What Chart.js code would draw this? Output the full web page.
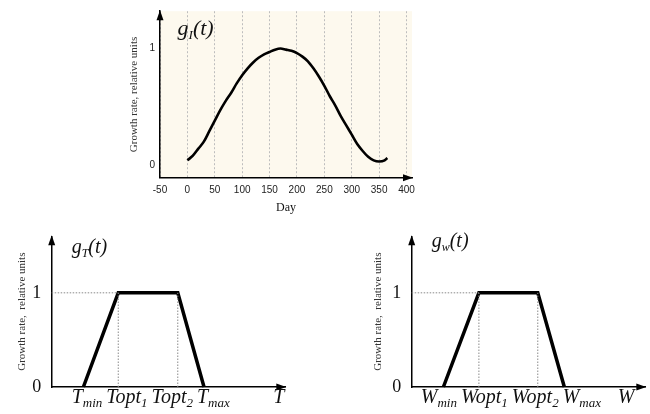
<!DOCTYPE html>
<html>
<head>
<meta charset="utf-8">
<script src="https://cdn.jsdelivr.net/npm/chart.js@4/dist/chart.umd.min.js"></script>
<style>
  body { margin: 0; background: #fff; }
  #wrap { position: relative; width: 650px; height: 414px; }
  canvas { position: absolute; }
</style>
</head>
<body>
<div id="wrap">
  <canvas id="light" style="left:0;top:0;width:650px;height:215px" width="650" height="215"></canvas>
  <canvas id="temp" style="left:0;top:215px;width:325px;height:199px" width="325" height="199"></canvas>
  <canvas id="water" style="left:325px;top:215px;width:325px;height:199px" width="325" height="199"></canvas>
</div>
<script>
// DATA
const days = [0, 10, 20, 30, 40, 50, 60, 70, 80, 90, 100, 110, 120, 130, 140, 150, 160, 170, 180,
              190, 200, 210, 220, 230, 240, 250, 260, 270, 280, 290, 300, 310, 320, 330, 340, 350, 360, 365];
const lightGrowth = [0.04, 0.08, 0.14, 0.20, 0.29, 0.38, 0.47, 0.55, 0.62, 0.70, 0.77, 0.83, 0.88, 0.92,
                     0.95, 0.97, 0.99, 1.00, 0.99, 0.98, 0.96, 0.93, 0.89, 0.83, 0.76, 0.68, 0.59, 0.51,
                     0.42, 0.34, 0.26, 0.18, 0.12, 0.07, 0.04, 0.03, 0.04, 0.06];
const dayTicks = [-50, 0, 50, 100, 150, 200, 250, 300, 350, 400];
const rateTicks = [0, 1];

// Tmin, Topt1, Topt2, Tmax  (and the same for W)
const tempStops = [0.99, 2.08, 3.94, 4.76];
const waterStops = [0.99, 2.10, 3.94, 4.77];
const trapezoid = [0, 1, 1, 0];
const tempLabels = [['T', 'min'], ['Topt', '1'], ['Topt', '2'], ['T', 'max']];
const waterLabels = [['W', 'min'], ['Wopt', '1'], ['Wopt', '2'], ['W', 'max']];

const SERIF = "'Liberation Serif', 'Times New Roman', serif";
const SANS = "'Liberation Sans', Arial, sans-serif";

// text with a subscript: [main, sub, tail]
let subWidth = (ctx, parts, size, subSize) => {
    ctx.font = 'italic ' + size + 'px ' + SERIF;
    let w = ctx.measureText(parts[0]).width + ctx.measureText(parts[2] || '').width;
    ctx.font = 'italic ' + subSize + 'px ' + SERIF;
    return w + ctx.measureText(parts[1]).width;
}

let drawSub = (ctx, x, y, parts, size, subSize) => {
    ctx.textAlign = 'left';
    ctx.textBaseline = 'alphabetic';
    ctx.font = 'italic ' + size + 'px ' + SERIF;
    ctx.fillText(parts[0], x, y);
    x += ctx.measureText(parts[0]).width;
    ctx.font = 'italic ' + subSize + 'px ' + SERIF;
    ctx.fillText(parts[1], x, y + 4);
    x += ctx.measureText(parts[1]).width;
    if (parts[2]) {
        ctx.font = 'italic ' + size + 'px ' + SERIF;
        ctx.fillText(parts[2], x, y);
    }
}

let arrows = (ctx, area) => {
    ctx.fillStyle = '#000';
    ctx.beginPath();
    ctx.moveTo(area.left, area.top - 1);
    ctx.lineTo(area.left - 3.5, area.top + 9);
    ctx.lineTo(area.left + 3.5, area.top + 9);
    ctx.closePath();
    ctx.fill();
    ctx.beginPath();
    ctx.moveTo(area.right + 1, area.bottom);
    ctx.lineTo(area.right - 9, area.bottom - 3.5);
    ctx.lineTo(area.right - 9, area.bottom + 3.5);
    ctx.closePath();
    ctx.fill();
}

const decor = {
    id: 'decor',
    beforeDraw(chart, args, opts) {
        if (!opts.fill) return;
        let a = chart.chartArea;
        chart.ctx.save();
        chart.ctx.fillStyle = opts.fill;
        chart.ctx.fillRect(a.left, a.top, a.right - a.left, a.bottom - a.top);
        chart.ctx.restore();
    },
    afterDraw(chart, args, opts) {
        let ctx = chart.ctx;
        let a = chart.chartArea;
        ctx.save();
        arrows(ctx, a);
        ctx.fillStyle = '#111';
        drawSub(ctx, a.left + opts.titleDx, a.top + opts.titleDy, opts.title, opts.titleSize, opts.titleSize * 0.6);

        if (opts.stops) {
            let xs = chart.scales.x;
            let gap = 4;
            let total = 0;
            opts.labels.forEach(l => total += subWidth(ctx, l, 20, 13));
            total += gap * (opts.labels.length - 1);
            let mid = (xs.getPixelForValue(opts.stops[0]) + xs.getPixelForValue(opts.stops[3])) / 2 + 7;
            let x = mid - total / 2;
            let y = a.bottom + 16;
            opts.labels.forEach(l => {
                drawSub(ctx, x, y, l, 20, 13);
                x += subWidth(ctx, l, 20, 13) + gap;
            });
            ctx.font = 'italic 20px ' + SERIF;
            ctx.textAlign = 'center';
            ctx.fillText(opts.axisName, xs.getPixelForValue(opts.axisNameAt), y);
        }
        ctx.restore();
    }
};

// FIRST CHART: light
new Chart(document.getElementById('light').getContext('2d'), {
    type: 'line',
    data: {
        datasets: [{
            data: days.map((d, i) => ({x: d, y: lightGrowth[i]})),
            borderColor: '#000',
            borderWidth: 2.6,
            pointRadius: 0,
            cubicInterpolationMode: 'monotone',
            fill: false
        }]
    },
    options: {
        responsive: false,
        animation: false,
        layout: { padding: { left: 120, right: 238, top: 11.2, bottom: 0 } },
        plugins: {
            legend: { display: false },
            tooltip: { enabled: false },
            decor: { fill: '#fdf9ee', title: ['g', 'I', '(t)'], titleSize: 22, titleDx: 17.5, titleDy: 23.5 }
        },
        scales: {
            x: {
                type: 'linear', min: -50, max: 410,
                afterFit: s => { s.height = 37.2; },
                afterBuildTicks: s => { s.ticks = dayTicks.map(v => ({value: v})); },
                ticks: { padding: 6, color: '#222', font: { family: SANS, size: 10 } },
                grid: { color: '#bdbdbd', lineWidth: 1, drawTicks: false },
                border: { display: true, color: '#000', width: 1.5, dash: [2, 2] },
                title: { display: true, text: 'Day', color: '#111', font: { family: SERIF, size: 12 }, padding: { top: 0, bottom: 0 } }
            },
            y: {
                min: -0.11, max: 1.32,
                afterFit: s => { s.width = 40; },
                afterBuildTicks: s => { s.ticks = rateTicks.map(v => ({value: v})); },
                ticks: { padding: 5, color: '#222', font: { family: SANS, size: 10 } },
                grid: { display: false, drawTicks: false },
                border: { display: true, color: '#000', width: 1.5 },
                title: { display: true, text: 'Growth rate, relative units', color: '#333', font: { family: SERIF, size: 11 }, padding: { top: 8, bottom: 0 } }
            }
        }
    },
    plugins: [decor]
});

// SECOND AND THIRD CHARTS: temperature and water
let makeStep = (id, stops, labels, axisName, axisNameAt, title, titleDy, padLeft, padRight, yTitlePad) => {
    let dotted = (pts) => ({
        data: pts,
        borderColor: '#8a8a8a',
        borderWidth: 1,
        borderDash: [1.5, 1.5],
        pointRadius: 0,
        clip: false
    });
    return new Chart(document.getElementById(id).getContext('2d'), {
        type: 'line',
        data: {
            datasets: [
                dotted([{x: 0, y: trapezoid[1]}, {x: stops[1], y: trapezoid[1]}]),
                dotted([{x: stops[1], y: trapezoid[0]}, {x: stops[1], y: trapezoid[1]}]),
                dotted([{x: stops[2], y: trapezoid[3]}, {x: stops[2], y: trapezoid[2]}]),
                {
                    data: stops.map((s, i) => ({x: s, y: trapezoid[i]})),
                    borderColor: '#000',
                    borderWidth: 3.5,
                    pointRadius: 0,
                    tension: 0,
                    clip: false
                }
            ]
        },
        options: {
            responsive: false,
            animation: false,
            layout: { padding: { left: padLeft, right: padRight, top: 5.6, bottom: 0 } },
            plugins: {
                legend: { display: false },
                tooltip: { enabled: false },
                decor: {
                    title: title, titleSize: 20, titleDx: 20, titleDy: titleDy,
                    stops: stops, labels: labels, axisName: axisName, axisNameAt: axisNameAt
                }
            },
            scales: {
                x: {
                    type: 'linear', min: 0, max: 7.3,
                    afterFit: s => { s.height = 27; },
                    ticks: { display: false },
                    grid: { display: false, drawTicks: false },
                    border: { display: true, color: '#000', width: 1.5 }
                },
                y: {
                    min: 0, max: 1.6,
                    afterFit: s => { s.width = 51.7; },
                    afterBuildTicks: s => { s.ticks = rateTicks.map(v => ({value: v})); },
                    ticks: { padding: 10.5, color: '#111', font: { family: SERIF, size: 18 } },
                    grid: { display: false, drawTicks: false },
                    border: { display: true, color: '#000', width: 1.5 },
                    title: { display: true, text: 'Growth rate,  relative units', color: '#333', font: { family: SERIF, size: 11 }, padding: { top: yTitlePad, bottom: 0 } }
                }
            }
        },
        plugins: [decor]
    });
}

makeStep('temp', tempStops, tempLabels, 'T', 7.1, ['g', 'T', '(t)'], 17, 0, 39.7, 15.4);
makeStep('water', waterStops, waterLabels, 'W', 6.7, ['g', 'w', '(t)'], 10.5, 35, 4.7, 11.4);
</script>
</body>
</html>
